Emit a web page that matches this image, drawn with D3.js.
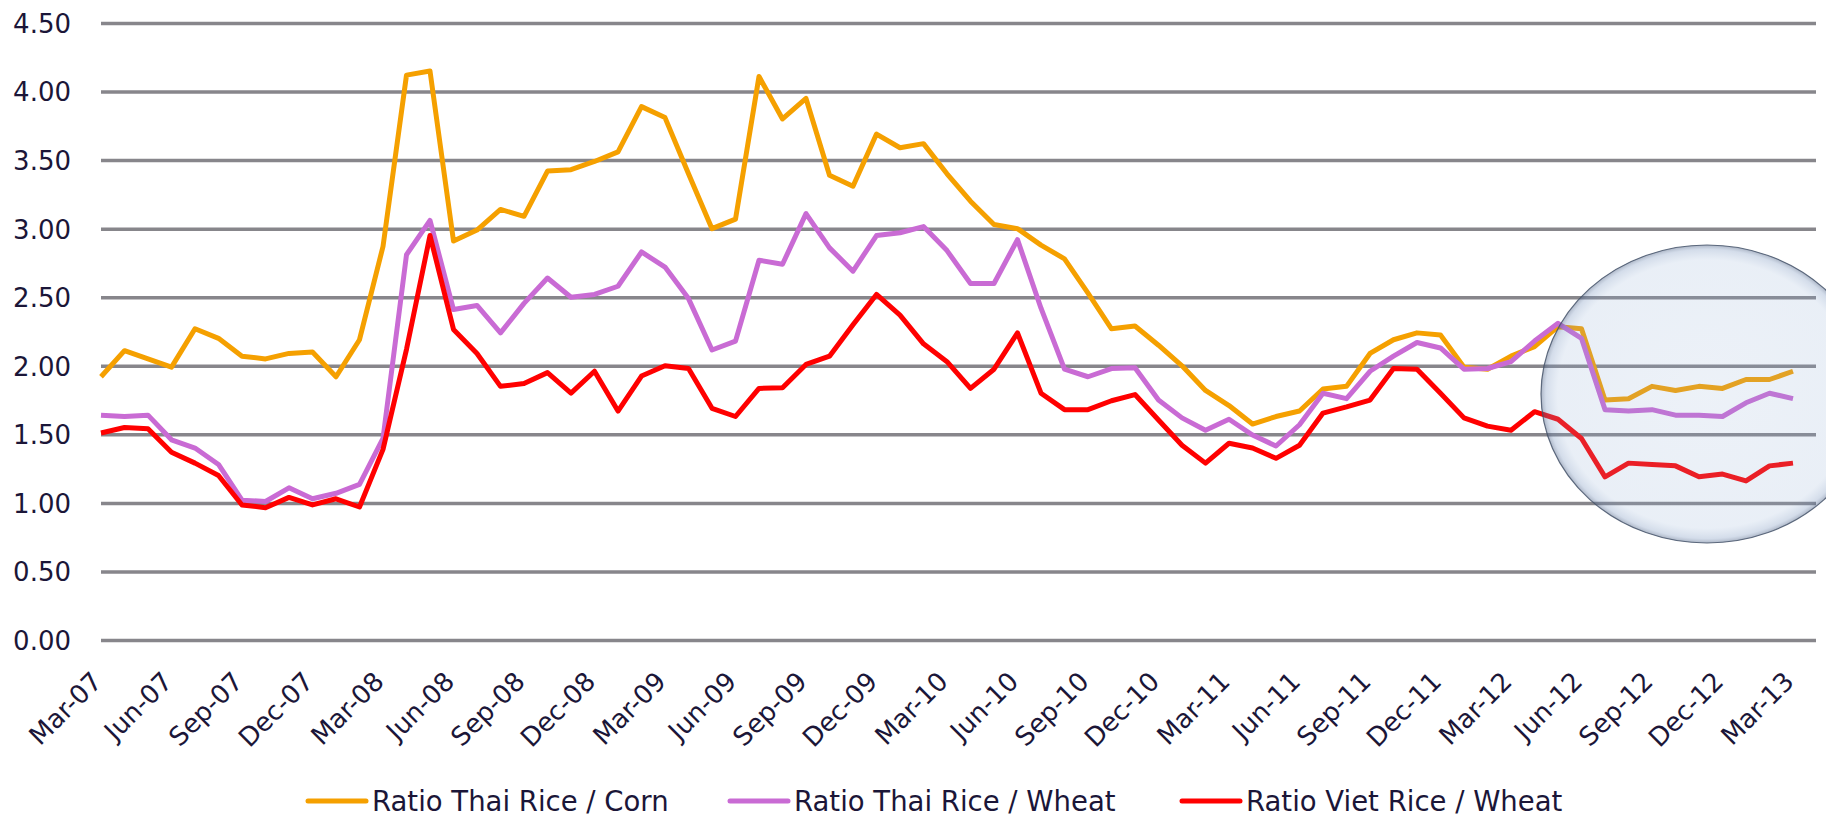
<!DOCTYPE html>
<html>
<head>
<meta charset="utf-8">
<script src="https://cdn.jsdelivr.net/npm/d3@7"></script>
<style>
    body { margin: 0; background: #ffffff; }
    svg { display: block; }
    .tick text { fill: #1b1638; }
</style>
</head>
<body>
<div id="chart"></div>
<script>
const width = 1826;
const height = 818;

// monthly ratios, Mar-07 .. Mar-13
var thaiCorn = [1.92, 2.11, 2.05, 1.99, 2.27, 2.20, 2.07, 2.05, 2.09, 2.10, 1.92, 2.19, 2.87,
    4.12, 4.15, 2.91, 2.99, 3.14, 3.09, 3.42, 3.43, 3.49, 3.56, 3.89, 3.81, 3.40, 3.00, 3.07,
    4.11, 3.80, 3.95, 3.39, 3.31, 3.69, 3.59, 3.62, 3.40, 3.20, 3.03, 3.00, 2.88, 2.78, 2.53,
    2.27, 2.29, 2.15, 2.00, 1.82, 1.71, 1.575, 1.63, 1.67, 1.83, 1.85, 2.09, 2.19, 2.24, 2.225,
    1.99, 1.975, 2.07, 2.14, 2.285, 2.27, 1.75, 1.76, 1.85, 1.82, 1.85, 1.835, 1.90, 1.90, 1.96];

var thaiWheat = [1.64, 1.63, 1.64, 1.46, 1.40, 1.28, 1.02, 1.01, 1.11, 1.03, 1.07, 1.135, 1.47,
    2.81, 3.06, 2.41, 2.44, 2.24, 2.455, 2.64, 2.50, 2.52, 2.58, 2.83, 2.72, 2.49, 2.115, 2.18,
    2.77, 2.74, 3.11, 2.86, 2.69, 2.95, 2.97, 3.015, 2.84, 2.60, 2.60, 2.92, 2.42, 1.975, 1.92,
    1.98, 1.985, 1.75, 1.62, 1.53, 1.61, 1.495, 1.415, 1.57, 1.80, 1.76, 1.96, 2.07, 2.17, 2.13,
    1.975, 1.98, 2.03, 2.18, 2.31, 2.20, 1.68, 1.67, 1.68, 1.64, 1.64, 1.63, 1.73, 1.80, 1.76];

var vietWheat = [1.51, 1.55, 1.54, 1.37, 1.29, 1.20, 0.985, 0.965, 1.04, 0.985, 1.03, 0.97, 1.39,
    2.12, 2.95, 2.265, 2.09, 1.85, 1.87, 1.95, 1.80, 1.96, 1.67, 1.925, 2.00, 1.98, 1.69, 1.63,
    1.835, 1.84, 2.01, 2.07, 2.30, 2.52, 2.37, 2.16, 2.03, 1.835, 1.975, 2.24, 1.80, 1.68, 1.68,
    1.745, 1.79, 1.605, 1.42, 1.29, 1.435, 1.40, 1.325, 1.42, 1.655, 1.70, 1.75, 1.98, 1.975, 1.80,
    1.62, 1.56, 1.53, 1.665, 1.61, 1.47, 1.19, 1.29, 1.28, 1.27, 1.19, 1.21, 1.16, 1.27, 1.29];

var seriesNames = ['Ratio Thai Rice / Corn', 'Ratio Thai Rice / Wheat', 'Ratio Viet Rice / Wheat'];
var seriesColors = ['#f5a000', '#c96bd4', '#ff0000'];
var yTicks = [0, 0.5, 1, 1.5, 2, 2.5, 3, 3.5, 4, 4.5];

// month categories
var fmt = d3.timeFormat('%b-%y');
var months = d3.timeMonth.range(new Date(2007, 2, 1), new Date(2013, 3, 1)).map(fmt);
var tickMonths = months.filter(function(d, i) { return i % 3 == 0; });

var series = [thaiCorn, thaiWheat, vietWheat];

var svg = d3.select('#chart')
    .append('svg')
    .attr('width', width)
    .attr('height', height);

var xScale = d3.scalePoint().domain(months).range([101, 1793]);
var yScale = d3.scaleLinear().domain([0, 4.5]).range([640, 23]);

// gridlines + y labels
var yAxis = d3.axisLeft(yScale)
    .tickValues(yTicks)
    .tickFormat(d3.format('.2f'))
    .tickSizeInner(-(1816 - 101))
    .tickSizeOuter(0)
    .tickPadding(30);

var gy = svg.append('g')
    .attr('transform', 'translate(101,0)')
    .call(yAxis);
gy.select('.domain').remove();
gy.selectAll('.tick line')
    .attr('stroke', '#87868b')
    .attr('stroke-width', 3.5);
gy.selectAll('.tick text')
    .attr('font-family', '"DejaVu Sans", Verdana, sans-serif')
    .attr('font-size', 26)
    .attr('dy', '0.36em');

// x labels, rotated
var xAxis = d3.axisBottom(xScale)
    .tickValues(tickMonths)
    .tickSize(0);

var gx = svg.append('g')
    .attr('transform', 'translate(0,640)')
    .call(xAxis);
gx.select('.domain').remove();
gx.selectAll('.tick text')
    .attr('font-family', '"DejaVu Sans", sans-serif')
    .attr('font-size', 26)
    .attr('y', 0)
    .attr('dy', 0)
    .attr('text-anchor', 'end')
    .attr('transform', 'translate(2,43) rotate(-45)');

// lines
var line = d3.line()
    .x(function(d, i) { return xScale(months[i]); })
    .y(function(d) { return yScale(d); });

series.forEach(function(s, k) {
    svg.append('path')
        .datum(s)
        .attr('fill', 'none')
        .attr('stroke', seriesColors[k])
        .attr('stroke-width', 5)
        .attr('stroke-linejoin', 'round')
        .attr('d', line);
});

// highlight bubble over the last months
var defs = svg.append('defs');
var grad = defs.append('radialGradient').attr('id', 'bubble');
grad.append('stop').attr('offset', '0%').attr('stop-color', 'rgb(140,170,210)').attr('stop-opacity', 0.16);
grad.append('stop').attr('offset', '90%').attr('stop-color', 'rgb(140,170,210)').attr('stop-opacity', 0.19);
grad.append('stop').attr('offset', '97%').attr('stop-color', 'rgb(110,140,185)').attr('stop-opacity', 0.3);
grad.append('stop').attr('offset', '100%').attr('stop-color', 'rgb(70,90,125)').attr('stop-opacity', 0.45);

svg.append('ellipse')
    .attr('cx', 1707)
    .attr('cy', 394)
    .attr('rx', 166)
    .attr('ry', 149)
    .attr('fill', 'url(#bubble)')
    .attr('stroke', '#45536a')
    .attr('stroke-opacity', 0.85)
    .attr('stroke-width', 1.2);

// legend
var legendX = [308, 730, 1182];
var legend = svg.append('g').attr('transform', 'translate(0,801)');
seriesNames.forEach(function(name, k) {
    legend.append('line')
        .attr('x1', legendX[k]).attr('x2', legendX[k] + 58)
        .attr('y1', 0).attr('y2', 0)
        .attr('stroke', seriesColors[k])
        .attr('stroke-width', 5)
        .attr('stroke-linecap', 'round');
    legend.append('text')
        .attr('x', legendX[k] + 64)
        .attr('y', 0)
        .attr('dy', '0.36em')
        .attr('font-family', '"DejaVu Sans", sans-serif')
        .attr('font-size', 27.5)
        .attr('fill', '#1b1638')
        .text(name);
});
</script>
</body>
</html>
